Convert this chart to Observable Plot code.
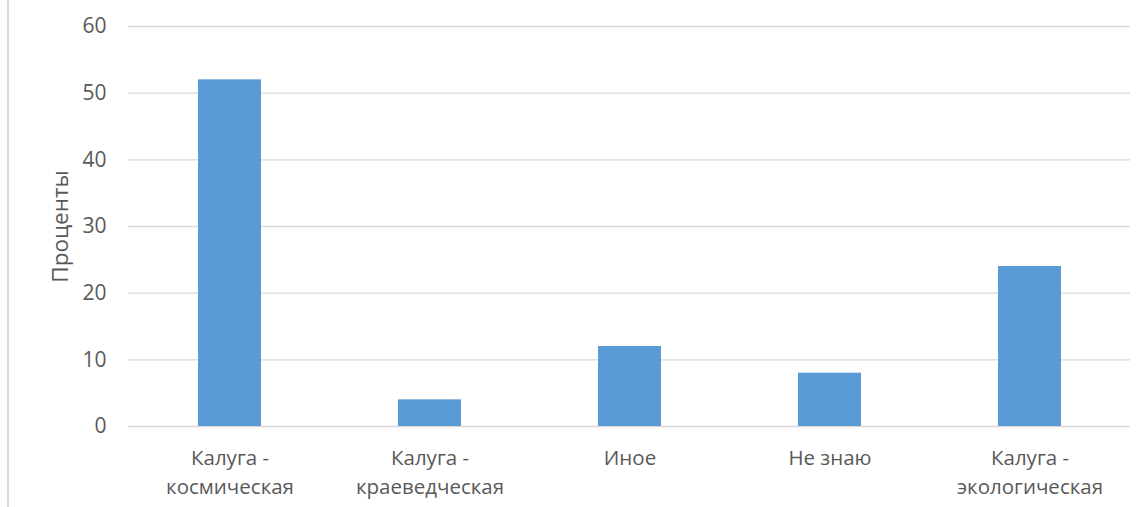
<!DOCTYPE html>
<html>
<head>
<meta charset="utf-8">
<script src="https://cdn.jsdelivr.net/npm/d3@7"></script>
<script src="https://cdn.jsdelivr.net/npm/@observablehq/plot@0.6"></script>
<style>
  html, body { margin: 0; padding: 0; background: #fff; }
  #wrap { position: relative; width: 1147px; height: 507px; }
  #edge { position: absolute; left: 7px; top: 0; width: 2px; height: 507px; background: #d9d9d9; }
</style>
</head>
<body>
<div id="wrap"><div id="edge"></div><div id="chart"></div></div>
<script>
const categories = ["Калуга -\nкосмическая", "Калуга -\nкраеведческая", "Иное", "Не знаю", "Калуга -\nэкологическая"];
const values = [52, 4, 12, 8, 24];
const yTicks = [0, 10, 20, 30, 40, 50, 60];
const yLabel = "Проценты";

const data = categories.map((c, i) => ({category: c, value: values[i]}));

const chart = Plot.plot({
  width: 1147,
  height: 507,
  marginLeft: 128,
  marginRight: 17,
  marginTop: 26,
  marginBottom: 81,
  style: {fontFamily: "'Open Sans', sans-serif", fontSize: "20px", color: "#595959", background: "transparent"},
  x: {domain: categories, paddingInner: 0.686, paddingOuter: 0.343, label: null},
  y: {domain: [0, 60], ticks: yTicks, label: null},
  marks: [
    Plot.gridY(yTicks, {stroke: "#d9d9d9", strokeOpacity: 1, strokeWidth: 1.3}),
    Plot.barY(data, {x: "category", y: "value", fill: "#5b9bd5"}),
    Plot.axisY(yTicks, {tickSize: 0, tickPadding: 22, fontSize: 21, fill: "#595959", label: null}),
    Plot.axisX(categories, {tickSize: 0, tickPadding: 17, fontSize: 20.5, fill: "#595959", lineHeight: 1.45, label: null}),
    Plot.text([yLabel], {frameAnchor: "left", textAnchor: "middle", dx: -68, rotate: -90, fontSize: 22.5, fill: "#595959"})
  ]
});
document.getElementById("chart").appendChild(chart);
</script>
</body>
</html>
